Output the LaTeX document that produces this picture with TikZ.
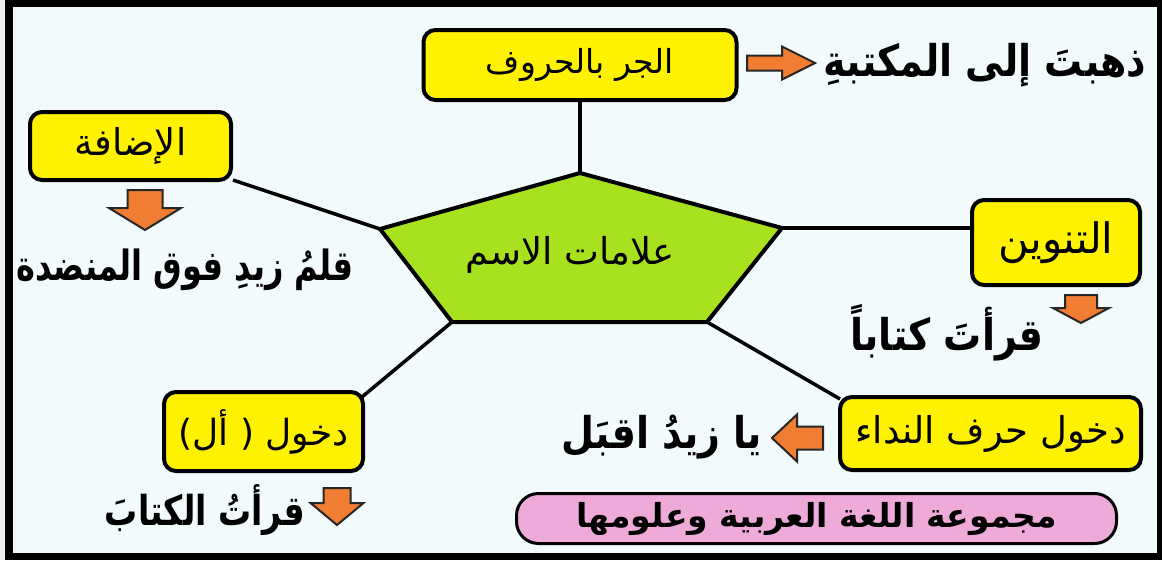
\documentclass[tikz,border=0pt]{standalone}
\usepackage{fontspec}
\usetikzlibrary{calc}
\TeXXeTstate=1
\newfontfamily\arfont[Script=Arabic]{DejaVu Sans}
\definecolor{bgc}{RGB}{243,250,252}
\definecolor{boxyellow}{RGB}{255,242,0}
\definecolor{pentgreen}{RGB}{168,226,30}
\definecolor{arrorange}{RGB}{240,125,50}
\definecolor{pinkbox}{RGB}{238,170,216}
\newcommand\arsize[1]{\arfont\fontsize{#1}{#1}\selectfont}
\newcommand\arbold[1]{\arfont\bfseries\fontsize{#1}{#1}\selectfont}
\tikzset{
  ybox/.style={draw=black, line width=4pt, fill=boxyellow, rounded corners=12pt, inner sep=0pt},
  conn/.style={draw=black, line width=3.5pt},
  exlabel/.style={inner sep=0pt, transform shape},
  arrowsty/.style={draw=black!85, line width=2pt, fill=arrorange, line join=miter},
  pics/barrow/.style n args={4}{code={
    \draw[arrowsty] (0,-#1) -- (#3,-#1) -- (#3,-#2) -- (#4,0) -- (#3,#2) -- (#3,#1) -- (0,#1) -- cycle;}}
}
\begin{document}
\begin{tikzpicture}[x=1pt,y=-1pt]
\useasboundingbox (0,0) rectangle (1162,560);
% frame and background
\fill[white!94!black] (0,0) rectangle (1162,560);
\fill[black] (5,0) rectangle (1162,560);
\fill[bgc] (13,7) rectangle (1157,553);

% pentagon
\coordinate (pt) at (580,173);
\coordinate (pr) at (782,228);
\coordinate (pbr) at (707,322);
\coordinate (pbl) at (452,322);
\coordinate (pl) at (380,229);

% boxes
\node[ybox, minimum width=313pt, minimum height=70pt, font=\arsize{33}] (jar) at (580,65) {\beginR الجر بالحروف\endR};
\node[ybox, minimum width=201pt, minimum height=68pt, font=\arsize{37}] (idafa) at (130.5,146) {\beginR الإضافة\endR};
\node[ybox, minimum width=168pt, minimum height=85pt, font=\arsize{42}] (tanwin) at (1056,242.5) {\beginR التنوين\endR};
\node[ybox, minimum width=199pt, minimum height=79pt, font=\arsize{36}] (al) at (263.5,431.5) {\beginR دخول ( أل)\endR};
\node[ybox, minimum width=301pt, minimum height=73pt, font=\arsize{37}] (nida) at (990.5,433.5) {\beginR دخول حرف النداء\endR};

% connectors
\draw[conn] (jar.south) -- (pt);
\draw[conn] (pl) -- (idafa);
\draw[conn] (pr) -- (pr -| tanwin.west);
\draw[conn] (pbl) -- ($(al.north east)+(-3,7)$);
\draw[conn] (pbr) -- ($(nida.north west)+(2,4)$);

\filldraw[fill=pentgreen, draw=black, line width=4pt, line join=miter] (pt) -- (pr) -- (pbr) -- (pbl) -- (pl) -- cycle;
\node[inner sep=0pt, font=\arsize{37}] (center) at (570,255) {\beginR علامات الاسم\endR};

% pink box
\node[draw=black, line width=3pt, fill=pinkbox, rounded corners=22pt, minimum width=600pt, minimum height=50pt, inner sep=0pt, font=\arbold{33}] (group) at (816.5,518.5) {\beginR مجموعة اللغة العربية وعلومها\endR};

% example texts (slightly stretched vertically)
\begin{scope}[shift={(985,65)}, yscale=1.15]
  \node[exlabel, font=\arbold{38}] (ex1) at (0,0) {\beginR ذهبتَ إلى المكتبةِ\endR};
\end{scope}
\begin{scope}[shift={(185,270)}, yscale=1.3]
  \node[exlabel, font=\arbold{32}] (ex2) at (0,0) {\beginR قلمُ زيدِ فوق المنضدة\endR};
\end{scope}
\begin{scope}[shift={(947,333)}, yscale=1.15]
  \node[exlabel, font=\arbold{38}] (ex3) at (0,0) {\beginR قرأتَ كتاباً\endR};
\end{scope}
\begin{scope}[shift={(662,437)}, yscale=1.15]
  \node[exlabel, font=\arbold{38}] (ex4) at (0,0) {\beginR يا زيدُ اقبَل\endR};
\end{scope}
\begin{scope}[shift={(205,510)}, yscale=1.25]
  \node[exlabel, font=\arbold{33}] (ex5) at (0,0) {\beginR قرأتُ الكتابَ\endR};
\end{scope}

% block arrows
\pic at (747,63) {barrow={7.5}{16.5}{35}{68}};
\pic[rotate=-90] at (145,190) {barrow={17.5}{36}{18}{40}};
\pic[rotate=-90] at (1081,295) {barrow={16}{28}{13}{28}};
\pic[rotate=180] at (823,438) {barrow={11.5}{23.5}{26}{51}};
\pic[rotate=-90] at (337,488) {barrow={13.5}{26.5}{15}{37}};
\end{tikzpicture}
\end{document}
